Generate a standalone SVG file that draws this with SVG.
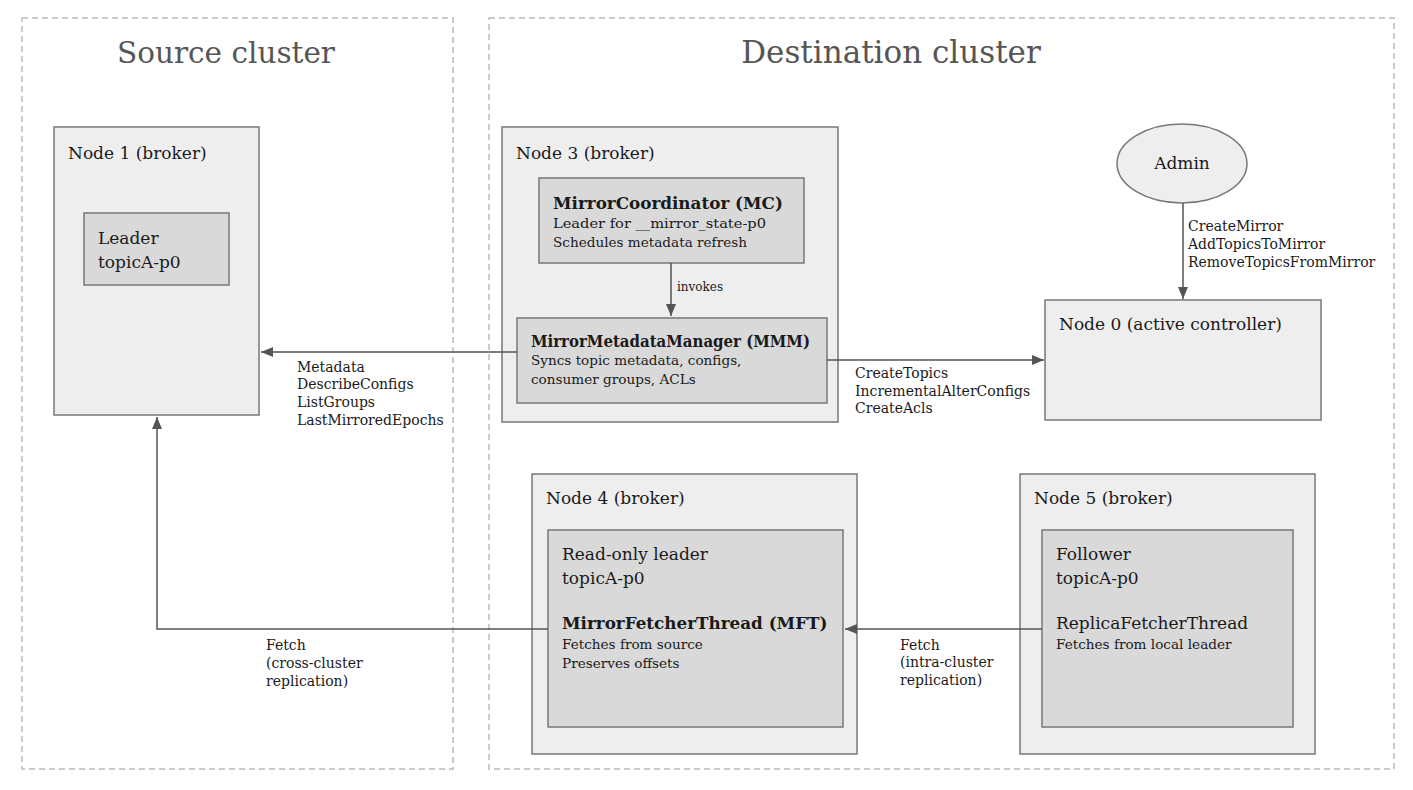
<svg xmlns="http://www.w3.org/2000/svg" width="1413" height="790" viewBox="0 0 1413 790">
<style>
text{font-family:"DejaVu Serif","Liberation Serif",serif;fill:#1a1a1a}
.cluster{fill:none;stroke:#bbb;stroke-width:1.5;stroke-dasharray:6 4}
.title{font-size:31px;fill:#555;text-anchor:middle}
.node{fill:#eeeeee;stroke:#777;stroke-width:1.5}
.inner{fill:#d9d9d9;stroke:#777;stroke-width:1.5}
.lbl{font-size:17px}
.b{font-size:16.8px;font-weight:bold}
.s{font-size:13.6px}
.e{font-size:14px}
.tiny{font-size:12px}
.edge{fill:none;stroke:#555;stroke-width:1.5}
</style>
<defs>
<marker id="arr" viewBox="0 0 12 10" refX="12" refY="5" markerWidth="12" markerHeight="10" markerUnits="userSpaceOnUse" orient="auto">
<path d="M0,0 L12,5 L0,10 Z" fill="#555"/>
</marker>
</defs>
<rect width="1413" height="790" fill="#fff"/>
<g id="source-cluster">
<rect class="cluster" x="22" y="18" width="431" height="751"/>
<text class="title" x="226" y="63" style="font-size:29.5px">Source cluster</text>
</g>
<g id="destination-cluster">
<rect class="cluster" x="489" y="18" width="905" height="751"/>
<text class="title" x="891" y="63">Destination cluster</text>
</g>
<g id="node1">
<rect class="node" x="54" y="127" width="205" height="288"/>
<text class="lbl" x="68" y="159">Node 1 (broker)</text>
</g>
<g id="leader-src">
<rect class="inner" x="84" y="213" width="145" height="72"/>
<text class="lbl" x="98" y="244">Leader</text>
<text class="lbl" x="98" y="268">topicA-p0</text>
</g>
<g id="node3">
<rect class="node" x="502" y="127" width="336" height="295"/>
<text class="lbl" x="516" y="159">Node 3 (broker)</text>
</g>
<g id="mc">
<rect class="inner" x="539" y="178" width="265" height="85"/>
<text class="b" x="553" y="209">MirrorCoordinator (MC)</text>
<text class="s" x="553" y="228" textLength="213" lengthAdjust="spacingAndGlyphs">Leader for __mirror_state-p0</text>
<text class="s" x="553" y="247">Schedules metadata refresh</text>
</g>
<g id="mmm">
<rect class="inner" x="517" y="318" width="310" height="85"/>
<text class="b" x="531" y="347" textLength="279" lengthAdjust="spacingAndGlyphs">MirrorMetadataManager (MMM)</text>
<text class="s" x="531" y="365">Syncs topic metadata, configs,</text>
<text class="s" x="531" y="384">consumer groups, ACLs</text>
</g>
<g id="admin">
<ellipse cx="1182" cy="163.5" rx="65" ry="39.5" fill="#eeeeee" stroke="#777" stroke-width="1.5"/>
<text class="lbl" x="1182" y="169" text-anchor="middle">Admin</text>
</g>
<g id="node0">
<rect class="node" x="1045" y="300" width="276" height="120"/>
<text class="lbl" x="1059" y="330">Node 0 (active controller)</text>
</g>
<g id="node4">
<rect class="node" x="532" y="474" width="325" height="280"/>
<text class="lbl" x="546" y="504">Node 4 (broker)</text>
</g>
<g id="mft">
<rect class="inner" x="548" y="530" width="295" height="197"/>
<text class="lbl" x="562" y="560">Read-only leader</text>
<text class="lbl" x="562" y="584">topicA-p0</text>
<text class="b" x="562" y="629">MirrorFetcherThread (MFT)</text>
<text class="s" x="562" y="649">Fetches from source</text>
<text class="s" x="562" y="668">Preserves offsets</text>
</g>
<g id="node5">
<rect class="node" x="1020" y="474" width="295" height="280"/>
<text class="lbl" x="1034" y="504">Node 5 (broker)</text>
</g>
<g id="follower">
<rect class="inner" x="1042" y="530" width="251" height="197"/>
<text class="lbl" x="1056" y="560">Follower</text>
<text class="lbl" x="1056" y="584">topicA-p0</text>
<text class="lbl" x="1056" y="629">ReplicaFetcherThread</text>
<text class="s" x="1056" y="649">Fetches from local leader</text>
</g>
<g id="connectors">
<line class="edge" x1="671" y1="263" x2="671" y2="316" marker-end="url(#arr)"/>
<text class="tiny" x="677" y="291">invokes</text>
<line class="edge" x1="517" y1="352" x2="261" y2="352" marker-end="url(#arr)"/>
<text class="e" x="297" y="372">Metadata</text>
<text class="e" x="297" y="389">DescribeConfigs</text>
<text class="e" x="297" y="407">ListGroups</text>
<text class="e" x="297" y="425">LastMirroredEpochs</text>
<line class="edge" x1="827" y1="360" x2="1044" y2="360" marker-end="url(#arr)"/>
<text class="e" x="855" y="378">CreateTopics</text>
<text class="e" x="855" y="396">IncrementalAlterConfigs</text>
<text class="e" x="855" y="413">CreateAcls</text>
<line class="edge" x1="1183" y1="203" x2="1183" y2="299" marker-end="url(#arr)"/>
<text class="e" x="1188" y="231">CreateMirror</text>
<text class="e" x="1188" y="249">AddTopicsToMirror</text>
<text class="e" x="1188" y="267">RemoveTopicsFromMirror</text>
<line class="edge" x1="1042" y1="629" x2="845" y2="629" marker-end="url(#arr)"/>
<text class="e" x="900" y="650">Fetch</text>
<text class="e" x="900" y="667">(intra-cluster</text>
<text class="e" x="900" y="685">replication)</text>
<path class="edge" d="M548,629 H157 V417" marker-end="url(#arr)"/>
<text class="e" x="266" y="650">Fetch</text>
<text class="e" x="266" y="668">(cross-cluster</text>
<text class="e" x="266" y="686">replication)</text>
</g>
</svg>
